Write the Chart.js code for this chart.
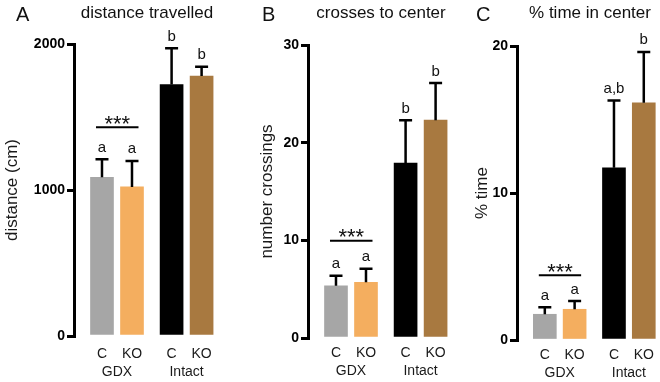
<!DOCTYPE html>
<html>
<head>
<meta charset="utf-8">
<script src="https://cdn.jsdelivr.net/npm/chart.js@4.4.1/dist/chart.umd.min.js"></script>
<style>
  html, body { margin: 0; padding: 0; background: #fff; }
  #wrap { position: relative; width: 660px; height: 382px; overflow: hidden; }
  #wrap canvas { position: absolute; left: 0; top: 0; }
</style>
</head>
<body>
<div id="wrap">
  <canvas id="cA" width="660" height="382"></canvas>
  <canvas id="cB" width="660" height="382"></canvas>
  <canvas id="cC" width="660" height="382"></canvas>
</div>
<script>
// ---------- data ----------
const groups = ['GDX', 'Intact'];
const genotypes = ['C', 'KO'];
const barColors = ['#a6a6a6', '#f4ae5f', '#000000', '#a87940'];

const distMean = [1087, 1021, 1722, 1781];
const distErr = [123, 178, 249, 64];
const distLetters = ['a', 'a', 'b', 'b'];
const distSig = 1430;
const distTicks = [0, 1000, 2000];

const crossMean = [5.35, 5.7, 17.9, 22.3];
const crossErr = [1.02, 1.38, 4.4, 3.8];
const crossLetters = ['a', 'a', 'b', 'b'];
const crossSig = 9.95;
const crossTicks = [0, 10, 20, 30];

const timeMean = [1.75, 2.09, 11.72, 16.14];
const timeErr = [0.47, 0.56, 4.58, 3.46];
const timeLetters = ['a', 'a', 'a,b', 'b'];
const timeSig = 4.4;
const timeTicks = [0, 10, 20];

const panelLetters = ['A', 'B', 'C'];
const panelTitles = ['distance travelled', 'crosses to center', '% time in center'];
const yTitles = ['distance (cm)', 'number crossings', '% time'];

// ---------- layout helpers ----------
const FONT = '"Liberation Sans", Arial, Helvetica, sans-serif';
const GROUP_STEP = 2.32;   // distance between the first bars of the two groups, in bar slots
const barPos = [];
groups.forEach((g, gi) => genotypes.forEach((t, ti) => barPos.push(gi * GROUP_STEP + ti)));
const xTickVals = [];
const xTickLabels = [];
groups.forEach((g, gi) => {
  const p = gi * GROUP_STEP;
  xTickVals.push(p, p + 0.5, p + 1);
  xTickLabels.push(genotypes[0], ['', g], genotypes[1]);
});

function annotPlugin(p) {
  return {
    id: 'annot' + p.letter,
    afterDatasetsDraw(chart) {
      const ctx = chart.ctx;
      const ys = chart.scales.y;
      const meta = chart.getDatasetMeta(0);
      ctx.save();
      ctx.strokeStyle = '#000';
      ctx.fillStyle = '#111';
      ctx.lineCap = 'butt';
      meta.data.forEach((bar, i) => {
        const top = ys.getPixelForValue(p.mean[i] + p.err[i]);
        ctx.lineWidth = 2.5;
        ctx.beginPath();
        ctx.moveTo(bar.x, bar.y);
        ctx.lineTo(bar.x, top);
        ctx.moveTo(bar.x - 6.5, top);
        ctx.lineTo(bar.x + 6.5, top);
        ctx.stroke();
        ctx.font = '15px ' + FONT;
        ctx.textAlign = 'center';
        ctx.textBaseline = 'alphabetic';
        ctx.fillText(p.letters[i], bar.x, top - 7.5);
      });
      // significance bar over the GDX pair
      const sy = ys.getPixelForValue(p.sig);
      const x0 = meta.data[0].x - 6, x1 = meta.data[1].x + 6.5;
      ctx.lineWidth = 2;
      ctx.beginPath();
      ctx.moveTo(x0, sy);
      ctx.lineTo(x1, sy);
      ctx.stroke();
      ctx.font = '22px ' + FONT;
      ctx.textAlign = 'center';
      ctx.fillText('***', (x0 + x1) / 2, sy + 3.5);
      // panel letter + title
      ctx.font = '20px ' + FONT;
      ctx.textAlign = 'left';
      ctx.fillText(p.letter, p.letterX, 21);
      ctx.font = '17px ' + FONT;
      ctx.textAlign = 'center';
      ctx.fillText(p.title, chart.chartArea.left + 73, 18);
      ctx.restore();
    }
  };
}

function makePanel(id, p) {
  new Chart(document.getElementById(id), {
    type: 'bar',
    data: {
      datasets: [{
        data: p.mean.map((v, i) => ({ x: barPos[i], y: v })),
        backgroundColor: barColors,
        borderWidth: 0,
        barThickness: 23
      }]
    },
    options: {
      responsive: false,
      animation: false,
      devicePixelRatio: 1,
      layout: { padding: { left: p.padLeft, right: p.padRight, top: p.padTop, bottom: 0 } },
      plugins: { legend: { display: false }, tooltip: { enabled: false }, title: { display: false } },
      scales: {
        x: {
          type: 'linear',
          offset: false,
          bounds: 'data',
          min: -0.933,
          max: 3.8,
          grid: { display: false, drawTicks: false },
          border: { display: false },
          afterBuildTicks: (s) => { s.ticks = xTickVals.map(v => ({ value: v })); },
          afterFit: (s) => { s.height = p.xHeight; },
          ticks: {
            autoSkip: false,
            maxRotation: 0,
            minRotation: 0,
            padding: p.xPad,
            color: '#1a1a1a',
            font: { family: FONT, size: 14, lineHeight: 1.3 },
            callback: (v, i) => xTickLabels[i]
          }
        },
        y: {
          min: 0,
          max: p.ticks[p.ticks.length - 1],
          afterBuildTicks: (s) => { s.ticks = p.ticks.map(v => ({ value: v })); },
          afterFit: (s) => { s.width = p.yWidth; },
          grid: { drawOnChartArea: false, drawTicks: true, tickLength: 7, lineWidth: 3, color: '#000' },
          border: { display: true, width: 3, color: '#000' },
          ticks: {
            padding: 2,
            color: '#000',
            font: { family: FONT, size: 14, weight: 'bold' },
            callback: (v) => String(v)
          },
          title: {
            display: true,
            text: p.yTitle,
            color: '#1a1a1a',
            padding: { top: 0, bottom: 0 },
            font: { family: FONT, size: 17 }
          }
        }
      }
    },
    plugins: [annotPlugin(p)]
  });
}

makePanel('cA', {
  mean: distMean, err: distErr, letters: distLetters, sig: distSig, ticks: distTicks,
  letter: panelLetters[0], title: panelTitles[0], yTitle: yTitles[0],
  letterX: 16, padLeft: 2, yWidth: 72, padRight: 444, padTop: 44, xHeight: 46, xPad: 9
});
makePanel('cB', {
  mean: crossMean, err: crossErr, letters: crossLetters, sig: crossSig, ticks: crossTicks,
  letter: panelLetters[1], title: panelTitles[1], yTitle: yTitles[1],
  letterX: 262, padLeft: 257, yWidth: 51, padRight: 210, padTop: 45, xHeight: 44, xPad: 6
});
makePanel('cC', {
  mean: timeMean, err: timeErr, letters: timeLetters, sig: timeSig, ticks: timeTicks,
  letter: panelLetters[2], title: panelTitles[2], yTitle: yTitles[2],
  letterX: 476, padLeft: 472, yWidth: 45, padRight: 1, padTop: 46, xHeight: 42, xPad: 6
});
</script>
</body>
</html>
